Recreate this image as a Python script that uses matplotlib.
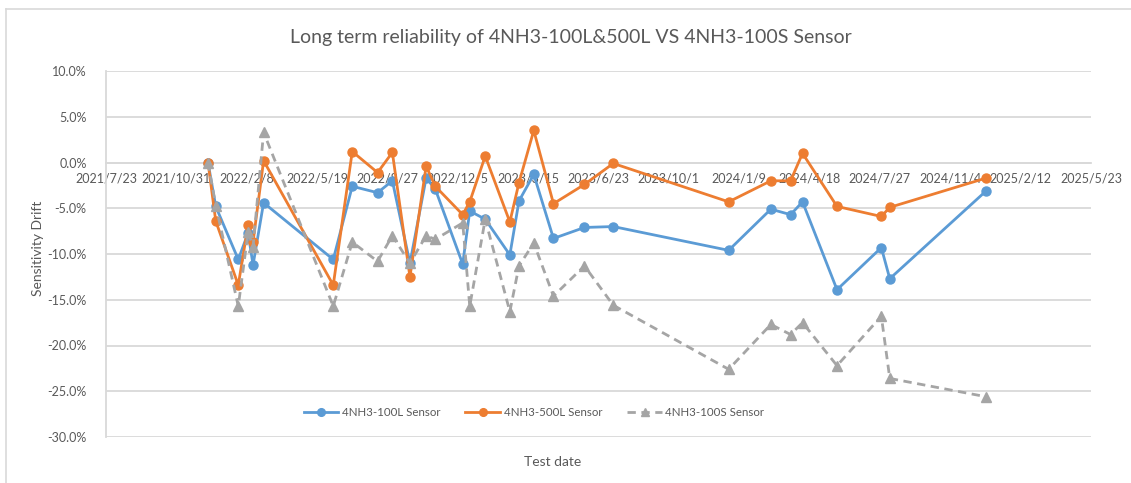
import matplotlib
matplotlib.use("Agg")
import matplotlib.pyplot as plt
from matplotlib.lines import Line2D
from matplotlib.ticker import FuncFormatter
import pandas as pd

# test dates
test_dates = [
    "2021-12-15", "2021-12-26", "2022-01-27", "2022-02-10", "2022-02-17", "2022-03-04",
    "2022-06-11", "2022-07-08", "2022-08-13", "2022-09-03", "2022-09-28", "2022-10-21",
    "2022-11-03", "2022-12-12", "2022-12-22", "2023-01-13", "2023-02-17", "2023-03-02",
    "2023-03-23", "2023-04-20", "2023-06-03", "2023-07-14", "2023-12-25", "2024-02-23",
    "2024-03-22", "2024-04-08", "2024-05-27", "2024-07-29", "2024-08-10", "2024-12-25",
]

# sensitivity drift in %
drift_100L = [0, -4.8, -10.6, -7.7, -11.2, -4.4, -10.6, -2.6, -3.3, -2.0, -11.0, -1.7,
              -2.9, -11.1, -5.3, -6.2, -10.1, -4.2, -1.3, -8.3, -7.1, -7.0, -9.6, -5.1,
              -5.7, -4.3, -13.9, -9.3, -12.7, -3.1]
drift_500L = [0, -6.4, -13.4, -6.8, -8.7, 0.2, -13.4, 1.2, -1.1, 1.1, -12.5, -0.4,
              -2.6, -5.7, -4.3, 0.7, -6.5, -2.2, 3.5, -4.5, -2.4, -0.1, -4.3, -2.0,
              -2.0, 1.0, -4.8, -5.9, -4.9, -1.7]
drift_100S = [0, -4.7, -15.7, -7.6, -9.2, 3.3, -15.7, -8.7, -10.8, -8.0, -11.0, -8.0,
              -8.4, -6.6, -15.7, -6.2, -16.3, -11.3, -8.8, -14.6, -11.3, -15.6, -22.6, -17.7,
              -18.8, -17.5, -22.2, -16.8, -23.6, -25.6]

series_names = ["4NH3-100L Sensor", "4NH3-500L Sensor", "4NH3-100S Sensor"]

axis_start = "2021-07-23"
axis_end = "2025-05-23"
tick_step_days = 100

TXT = "#595959"
GRID = "#d9d9d9"

plt.rcParams['font.family'] = ['Lato', 'DejaVu Sans']

dates = pd.to_datetime(test_dates)
x0 = pd.Timestamp(axis_start)
x1 = pd.Timestamp(axis_end)
ticks = pd.date_range(x0, x1, freq=f"{tick_step_days}D")

fig = plt.figure(figsize=(11.31, 4.83), dpi=100)
ax = fig.add_axes([106 / 1131, 1 - 437 / 483, (1091 - 106) / 1131, (437 - 71) / 483])

ax.plot(dates, drift_100L, color="#5B9BD5", lw=2, marker="o", ms=6.5, label=series_names[0], zorder=3)
ax.plot(dates, drift_500L, color="#ED7D31", lw=2, marker="o", ms=6.5, label=series_names[1], zorder=4)
ax.plot(dates, drift_100S, color="#A5A5A5", lw=2, ls=(0, (3, 2)), marker="^", ms=6.5,
        label=series_names[2], zorder=5)

ax.set_xlim(x0, x1)
ax.set_ylim(-30, 10)
ax.set_yticks(range(-30, 11, 5))
ax.yaxis.set_major_formatter(FuncFormatter(lambda v, p: f"{v:.1f}%"))
ax.set_xticks(ticks)
ax.set_xticklabels([f"{d.year}/{d.month}/{d.day}" for d in ticks])

ax.grid(axis="y", color=GRID, lw=1.3)
ax.set_axisbelow(True)
for s in ["top", "right"]:
    ax.spines[s].set_visible(False)
ax.spines["left"].set_color(GRID)
ax.spines["left"].set_linewidth(1.3)
ax.spines["bottom"].set_position(("data", 0))
ax.spines["bottom"].set_color(GRID)
ax.spines["bottom"].set_linewidth(1.3)
ax.tick_params(axis="both", length=0, colors=TXT, labelsize=9)
ax.tick_params(axis="y", pad=14)
ax.tick_params(axis="x", pad=7)

fig.text(571 / 1131, 1 - 38 / 483, "Long term reliability of 4NH3-100L&500L VS 4NH3-100S Sensor",
         ha="center", va="center", fontsize=14, color=TXT)
fig.text(553 / 1131, 1 - 462 / 483, "Test date", ha="center", va="center", fontsize=10, color=TXT)
fig.text(38 / 1131, 1 - 248 / 483, "Sensitivity Drift", ha="center", va="center",
         rotation=90, fontsize=10, color=TXT)

leg = fig.legend(loc="center", bbox_to_anchor=(534 / 1131, 1 - 413 / 483), ncol=3, frameon=False,
                 fontsize=8.3, handlelength=3.0, columnspacing=2.2, handletextpad=0.3,
                 markerscale=0.85)
for t in leg.get_texts():
    t.set_color(TXT)

# chart area border (only left and top edges visible)
fig.add_artist(Line2D([6 / 1131, 6 / 1131], [0, 1 - 9 / 483], color=GRID, lw=1.2, transform=fig.transFigure))
fig.add_artist(Line2D([6 / 1131, 1], [1 - 9 / 483, 1 - 9 / 483], color=GRID, lw=1.2, transform=fig.transFigure))

fig.savefig("out.png", dpi=100)
